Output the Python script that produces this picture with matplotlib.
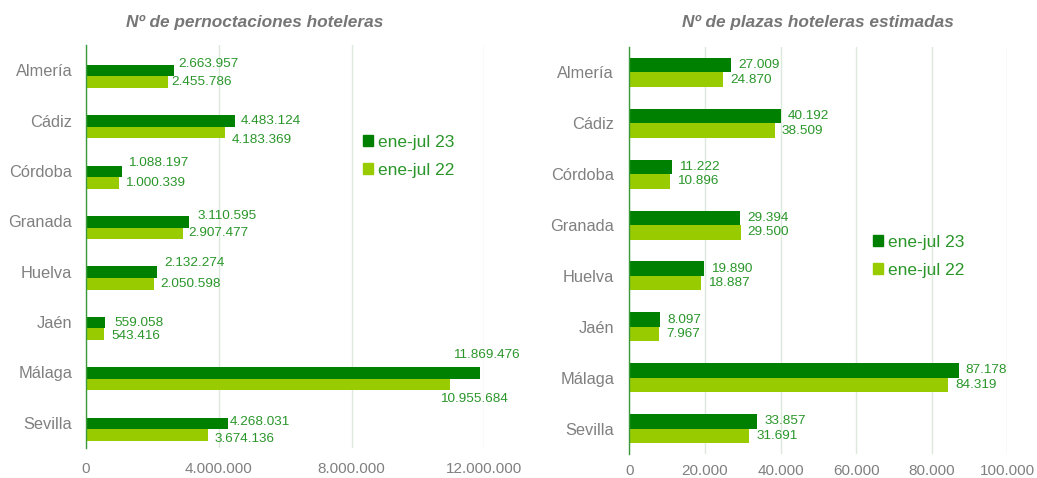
import matplotlib
matplotlib.use('Agg')
import matplotlib.pyplot as plt
from matplotlib.patches import Patch
from matplotlib.ticker import FuncFormatter, MultipleLocator
import numpy as np

# ---- data ----
provincias = ['Almería', 'Cádiz', 'Córdoba', 'Granada', 'Huelva', 'Jaén', 'Málaga', 'Sevilla']
series = ['ene-jul 23', 'ene-jul 22']
pernoctaciones_23 = [2663957, 4483124, 1088197, 3110595, 2132274, 559058, 11869476, 4268031]
pernoctaciones_22 = [2455786, 4183369, 1000339, 2907477, 2050598, 543416, 10955684, 3674136]
plazas_23 = [27009, 40192, 11222, 29394, 19890, 8097, 87178, 33857]
plazas_22 = [24870, 38509, 10896, 29500, 18887, 7967, 84319, 31691]
titulos = ['Nº de pernoctaciones hoteleras', 'Nº de plazas hoteleras estimadas']

# ---- style ----
FONT = 'Liberation Sans'
plt.rcParams['font.family'] = [FONT, 'DejaVu Sans']
C23 = '#008000'
C22 = '#99CC00'
TXT_GREEN = '#2A962A'
GREY = '#808080'
TITLE_GREY = '#767676'
GRID = '#DDE9DD'
SPINE = '#3A9A3A'

W, H = 1037, 478
fig = plt.figure(figsize=(W / 100, H / 100), dpi=100)


def px_axes(x0, x1, y0, y1):
    return fig.add_axes([x0 / W, 1 - y1 / H, (x1 - x0) / W, (y1 - y0) / H])


def miles(v, _=None):
    return f"{int(round(v)):,}".replace(',', '.')


ax1 = px_axes(86, 484.3, 45, 448)
ax2 = px_axes(629.3, 1007.3, 47, 454)

# label nudges for the overnight-stays panel (pixels: dx right, dy up)
off_23 = [(4, 7), (6, 0), (6, 8), (8, 6), (8, 9), (10, 0), (-27, 18), (2, 1)]
off_22 = [(4, 0), (7, -7), (6, 0), (6, 0), (6, 0), (7, -2), (-10, -14), (7, -4)]

y = np.arange(len(provincias))


def panel(ax, v23, v22, xmax, step, title, h, c23, c22, o23, o22, ypad, xpad, title_x):
    ax.barh(y + c23, v23, height=h, color=C23, label=series[0], zorder=3)
    ax.barh(y + c22, v22, height=h, color=C22, label=series[1], zorder=3)
    ax.set_xlim(0, xmax)
    ax.set_ylim(len(provincias) - 0.5, -0.5)
    ax.set_yticks(y)
    ax.set_yticklabels(provincias)
    ax.xaxis.set_major_locator(MultipleLocator(step))
    ax.xaxis.set_major_formatter(FuncFormatter(miles))
    ax.tick_params(axis='both', length=0, colors=GREY)
    ax.tick_params(axis='y', labelsize=11.8, pad=ypad)
    ax.tick_params(axis='x', labelsize=11, pad=xpad)
    ax.grid(axis='x', color=GRID, linewidth=1.0, zorder=0)
    for s in ('top', 'right', 'bottom'):
        ax.spines[s].set_visible(False)
    ax.spines['left'].set_color(SPINE)
    ax.spines['left'].set_linewidth(1.0)
    ax.spines['left'].set_zorder(4)
    for i in range(len(provincias)):
        for v, c, o in ((v23[i], c23, o23[i]), (v22[i], c22, o22[i])):
            ax.annotate(miles(v), xy=(v, i + c), xytext=o, textcoords='offset pixels',
                        ha='left', va='center', fontsize=9.7, color=TXT_GREEN,
                        annotation_clip=False)
    fig.text(title_x / W, 1 - 23 / H, title, ha='center', va='center',
             fontsize=12.4, fontweight='bold', fontstyle='italic', color=TITLE_GREY)


panel(ax1, pernoctaciones_23, pernoctaciones_22, 12_000_000, 4_000_000, titulos[0],
      0.23, 0.01, 0.24, off_23, off_22, 10, 10, 255)
panel(ax2, plazas_23, plazas_22, 100_000, 20_000, titulos[1],
      0.285, -0.142, 0.142, [(7, 0)] * 8, [(7, 0)] * 8, 11, 7, 818)

handles = [Patch(color=C23), Patch(color=C22)]
for ax, (lx, ly) in ((ax1, (363, 135)), (ax2, (873, 235))):
    ax.legend(handles, series, loc='upper left', bbox_to_anchor=(lx / W, 1 - ly / H),
              bbox_transform=fig.transFigure, frameon=False, fontsize=12.5,
              labelcolor=TXT_GREEN, handlelength=0.6, handleheight=0.6,
              handletextpad=0.25, labelspacing=0.74, borderpad=0, borderaxespad=0)

fig.savefig('out.png', dpi=100, facecolor='white')
